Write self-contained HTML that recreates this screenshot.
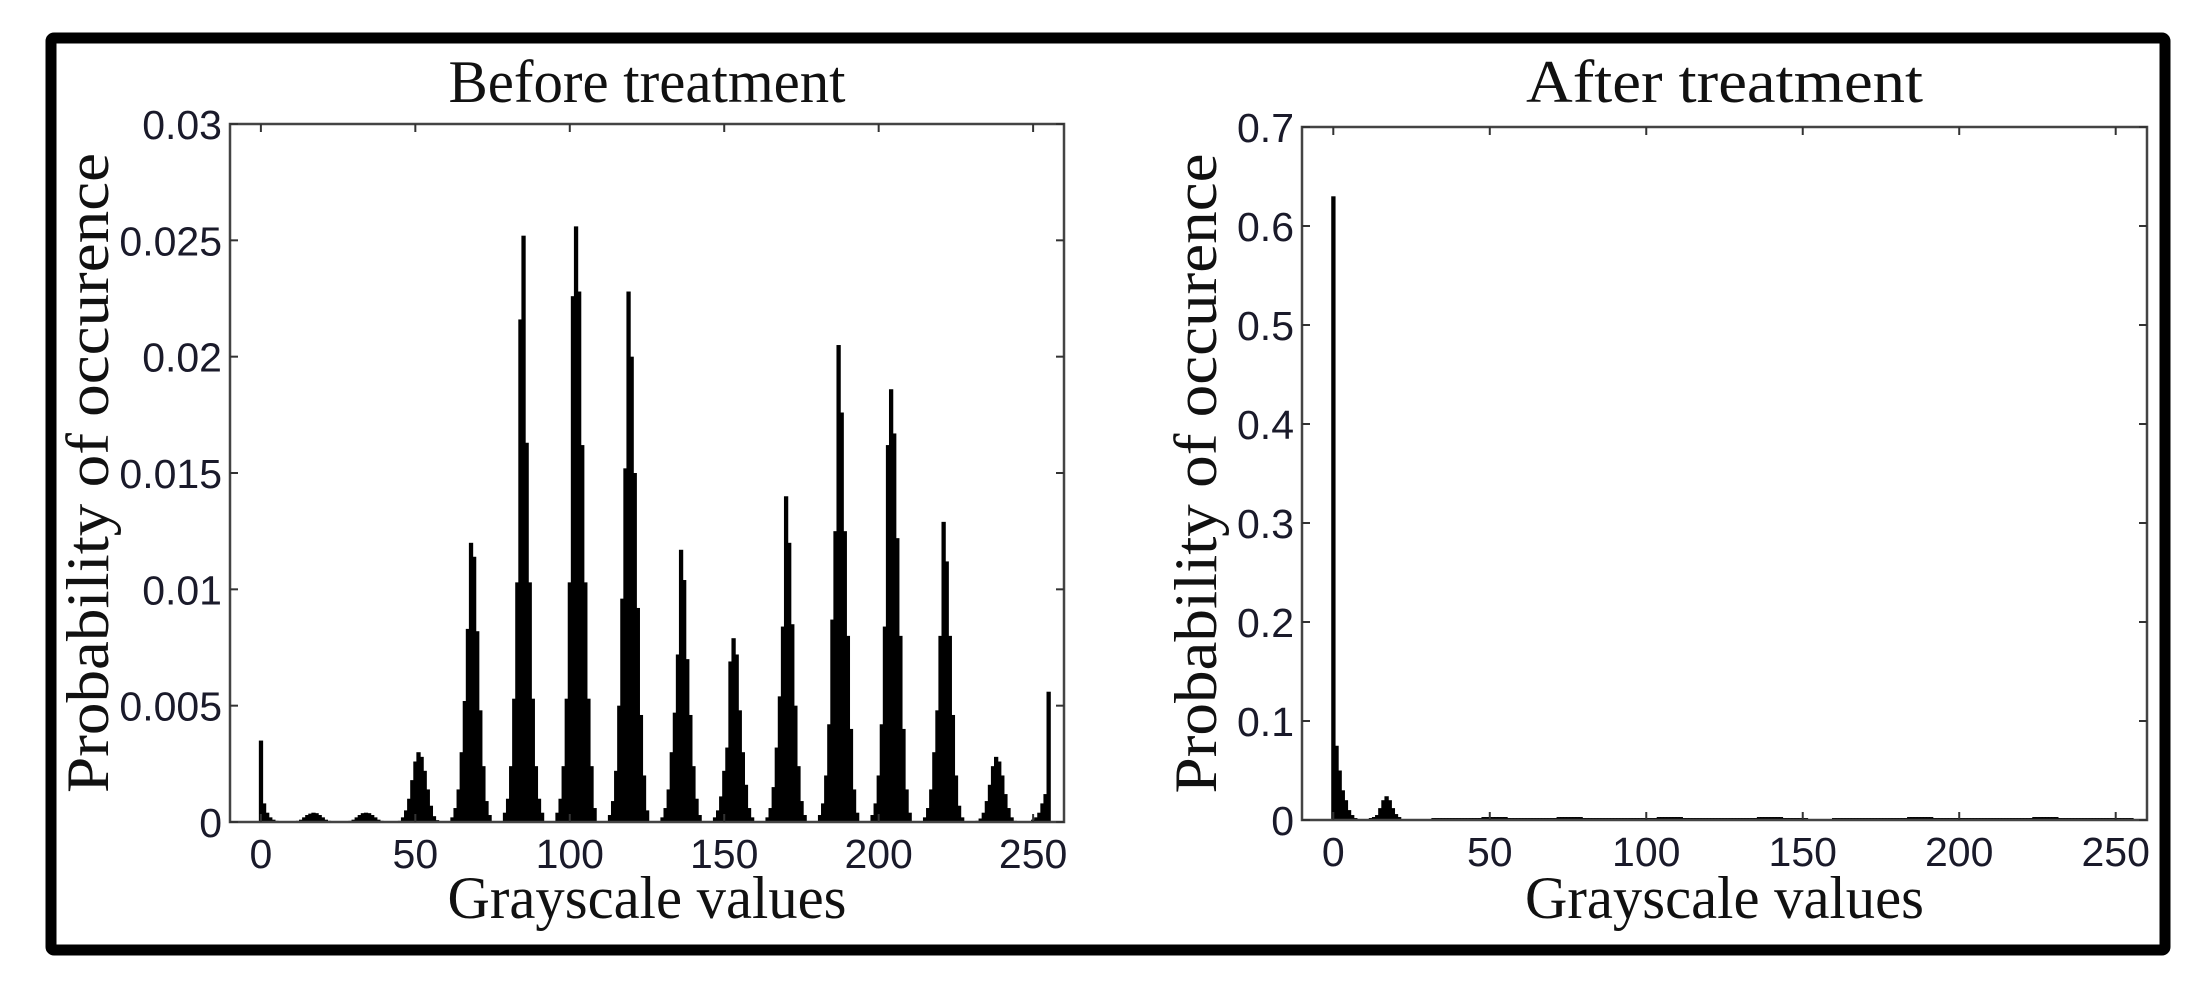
<!DOCTYPE html>
<html><head><meta charset="utf-8"><style>
html,body{margin:0;padding:0;background:#fff;}
svg{display:block;}
.tk{font-family:"Liberation Sans",Arial,sans-serif;font-size:41px;fill:#1a1a2a;}
.lb{font-family:"Liberation Serif","Times New Roman",serif;font-size:60px;fill:#111;}
</style></head><body>
<svg id="fig" width="2204" height="993" viewBox="0 0 2204 993" xmlns="http://www.w3.org/2000/svg">
<rect x="51" y="38" width="2114" height="912" fill="none" stroke="#000" stroke-width="11" rx="3"/>
<g id="left"></g>
<g id="right"></g>
</svg>
<script>
// ---- Before treatment data (probability in units of 1e-4) ----
const beforeCenters = [17, 34, 51, 68, 85, 102, 119, 136, 153, 170, 187, 204, 221, 238];
const beforeProfiles = [
  [0.2,0.5,1,2,3,3.6,4,3.8,3,2,1,0.5,0.2],
  [0.2,0.5,1,2,3,3.8,4,3.8,3,2,1,0.5,0.2],
  [0.5,2,5,10,18,26,30,28,22,14,7,2.5,0.8],
  [2,6,14,30,52,83,120,114,82,48,24,9,3],
  [4,10,24,53,103,216,252,163,103,53,24,10,4],
  [4,10,24,53,103,226,256,228,162,103,53,24,6],
  [3,9,22,50,96,152,228,200,150,92,46,20,5],
  [2,6,14,30,47,72,117,104,70,46,24,10,3],
  [2,5,11,22,32,69,79,72,48,30,16,6,2],
  [2,6,15,32,54,84,140,120,85,50,24,9,3],
  [3,8,20,42,87,125,205,176,125,80,40,14,4],
  [3,8,20,42,84,162,186,167,122,80,40,14,4],
  [2,6,14,30,48,80,129,112,80,46,20,7,2],
  [0.5,1.5,4,9,16,24,28,26,20,12,6,2,0.5]
];
const beforeStart = [35,8,4,2,1,0.5,0.2];           // bins 0..6
const beforeEnd = [0.3,1,2,4,8,12,56];              // bins 249..255
const beforeYTicks = [0,0.005,0.01,0.015,0.02,0.025,0.03];
const beforeYLabels = ["0","0.005","0.01","0.015","0.02","0.025","0.03"];

// ---- After treatment data ----
const afterHead = [0.63,0.075,0.05,0.03,0.02,0.01,0.005,0.002,0.001,0.001,0.001,0.001,0.002,0.003,0.005,0.012,0.02,0.024,0.02,0.012,0.006,0.003,0.001,0.001]; // bins 0..23
const afterTail = [0.001,0.002,0.002,0.003,0.002,0.002,0.003,0.002,0.002,0.002,0.003,0.002,0.002,0.002,0.003,0.002,0.001,0.002,0.002,0.002,0.003,0.002,0.002,0.002,0.002,0.003,0.002,0.002,0.002]; // 8-bin groups from 24
const afterYTicks = [0,0.1,0.2,0.3,0.4,0.5,0.6,0.7];
const afterYLabels = ["0","0.1","0.2","0.3","0.4","0.5","0.6","0.7"];

const xTicks = [0,50,100,150,200,250];
const xLabels = ["0","50","100","150","200","250"];

const NS = "http://www.w3.org/2000/svg";
function mk(tag, attrs, parent){const e=document.createElementNS(NS,tag);for(const k in attrs)e.setAttribute(k,attrs[k]);parent.appendChild(e);return e;}

const beforeBins = new Array(256).fill(0);
beforeStart.forEach((v,i)=>{beforeBins[i]=v*1e-4;});
beforeEnd.forEach((v,i)=>{beforeBins[249+i]=v*1e-4;});
beforeCenters.forEach((c,j)=>{beforeProfiles[j].forEach((v,k)=>{beforeBins[c-6+k]=v*1e-4;});});
const afterBins = new Array(256).fill(0);
afterHead.forEach((v,i)=>{afterBins[i]=v;});
afterTail.forEach((v,g)=>{for(let k=0;k<8;k++){const i=24+g*8+k;if(i<256)afterBins[i]=v;}});

function panel(g, box, ymax, yTicks, yLabels, bins, title, ylabX){
  const xs = v => box.l + (v+10)/270*(box.r-box.l);
  const ys = v => box.b - v/ymax*(box.b-box.t);
  const bw = xs(1)-xs(0);
  bins.forEach((v,i)=>{
    if(v<=0) return;
    const r = mk('rect',{x:xs(i)-bw/2-0.5,y:ys(v),width:bw+1.2,height:box.b-ys(v),fill:'#000'},g);
    
    
  });
  const ax = mk('rect',{x:box.l,y:box.t,width:box.r-box.l,height:box.b-box.t,fill:'none',stroke:'#444','stroke-width':2.5},g);
  
  
  xTicks.forEach((t,i)=>{
    const x=xs(t);
    mk('line',{x1:x,y1:box.b,x2:x,y2:box.b-8,stroke:'#333','stroke-width':2},g);
    mk('line',{x1:x,y1:box.t,x2:x,y2:box.t+8,stroke:'#333','stroke-width':2},g);
    const tx = mk('text',{x:x,y:box.b+46,'text-anchor':'middle',class:'tk'},g);
    tx.textContent = xLabels[i];
    
    
  });
  yTicks.forEach((t,i)=>{
    const y=ys(t);
    mk('line',{x1:box.l,y1:y,x2:box.l+8,y2:y,stroke:'#333','stroke-width':2},g);
    mk('line',{x1:box.r,y1:y,x2:box.r-8,y2:y,stroke:'#333','stroke-width':2},g);
    const tx = mk('text',{x:box.l-8,y:y+15,'text-anchor':'end',class:'tk'},g);
    tx.textContent = yLabels[i];
    
    
  });
  const cx=(box.l+box.r)/2;
  const tt = mk('text',{x:cx,y:102,'text-anchor':'middle',class:'lb',textLength:397,lengthAdjust:'spacingAndGlyphs'},g);
  tt.textContent = title;
  
  
  const xl = mk('text',{x:cx,y:918,'text-anchor':'middle',class:'lb',textLength:399,lengthAdjust:'spacingAndGlyphs'},g);
  xl.textContent = 'Grayscale values';
  
  
  const cy=(box.t+box.b)/2;
  const yl = mk('text',{x:ylabX,y:cy,'text-anchor':'middle',class:'lb',textLength:640,lengthAdjust:'spacingAndGlyphs',transform:`rotate(-90 ${ylabX} ${cy})`},g);
  yl.textContent = 'Probability of occurence';
  
  
}
panel(document.getElementById('left'), {l:230,r:1064,t:124,b:822}, 0.03, beforeYTicks, beforeYLabels, beforeBins, 'Before treatment', 108);
panel(document.getElementById('right'), {l:1302,r:2147,t:127,b:820}, 0.7, afterYTicks, afterYLabels, afterBins, 'After treatment', 1216);
</script>
</body></html>
